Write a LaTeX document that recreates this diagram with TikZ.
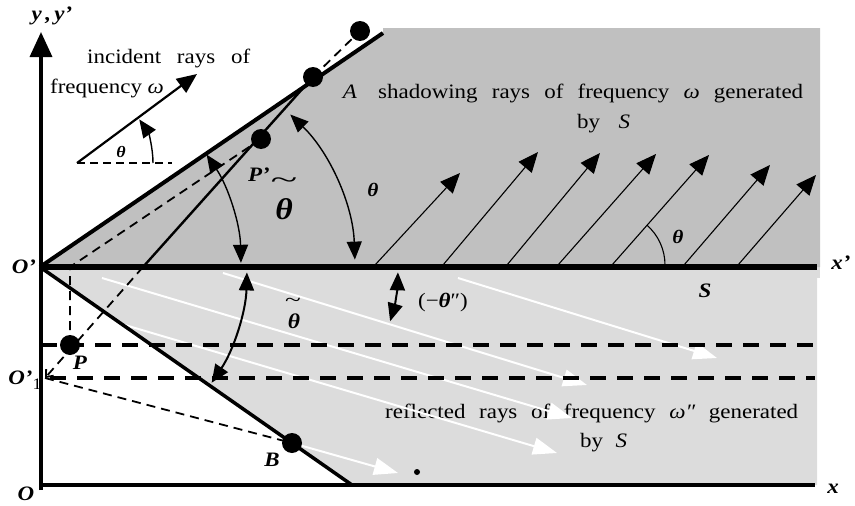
\documentclass[tikz,border=0pt]{standalone}
\usepackage{fontspec}
\setmainfont{Liberation Serif}[FakeStretch=1.12]
\usetikzlibrary{arrows.meta}
\definecolor{darkreg}{HTML}{C0C0C0}
\definecolor{lightreg}{HTML}{DCDCDC}
\begin{document}
\begin{tikzpicture}[x=1pt,y=-1pt,
  every node/.style={inner sep=0pt, font=\fontsize{20.5}{24}\selectfont},
  bi/.style={font=\fontsize{20.5}{24}\selectfont\bfseries\itshape},
  thlbl/.style={font=\fontsize{19}{20}\selectfont\bfseries\itshape},
  dot/.style={circle, fill=black, minimum size=20pt},
  bigtip/.tip={Triangle[length=20pt,width=17pt]},
  arctip/.tip={Triangle[length=18pt,width=15pt]},
  wtip/.tip={Triangle[length=24pt,width=17pt]},
  thickdash/.style={line width=4.2pt, dash pattern=on 16pt off 11pt},
  thindash/.style={line width=1.8pt, dash pattern=on 9pt off 6pt},
  ray/.style={line width=1.1pt, -{bigtip}},
  wray/.style={white, line width=2pt, -{wtip}},
  arcline/.style={line width=1.4pt}
]
\useasboundingbox (0,0) rectangle (855,506);

% key points
\coordinate (Op) at (40,267);
\coordinate (O) at (41,485);
\coordinate (ybase) at (41,490);
\coordinate (ytip) at (41,32);
\coordinate (xend) at (815,485);
\coordinate (xpend) at (817,267);
\coordinate (UB) at (383,33);
\coordinate (LB) at (352,485);
\coordinate (Q) at (143,267);
\coordinate (A) at (313,77);
\coordinate (T) at (360,31);
\coordinate (Pp) at (261,139);
\coordinate (P) at (70,345);
\coordinate (Pv) at (70,267);
\coordinate (Op1) at (45,378);
\coordinate (B) at (292,443);
\coordinate (R1) at (207,267);

% regions
\fill[lightreg] (Op) -- (xpend) -- (817,485) -- (LB) -- cycle;
\fill[lightreg] (815,267) rectangle (820,278);
\fill[darkreg] (Op) -- (UB) -- (383,28) -- (820,28) -- (820,267) -- cycle;

% texts
\node[anchor=base west] (inc1) at (87,63) {\makebox[163pt][s]{incident rays of}};
\node[anchor=base west] (inc2) at (50,93) {frequency \textit{ω}};
\node (lA) at (350,92) {\textit{A}};
\node[anchor=base west] (sh1) at (378,98) {\makebox[425pt][s]{shadowing rays of frequency \textit{ω} generated}};
\node[anchor=base west] (sh2) at (577,128) {\makebox[53pt][s]{by \textit{S}}};
\node[anchor=base west] (rf1) at (385,418) {\makebox[413pt][s]{reflected rays of frequency \textit{ω″} generated}};
\node[anchor=base west] (rf2) at (580,447) {\makebox[47pt][s]{by \textit{S}}};

% white reflected rays
\coordinate (w1a) at (223,273); \coordinate (w1b) at (587,385);
\coordinate (w2a) at (102,278); \coordinate (w2b) at (572,418);
\coordinate (w3a) at (125,325); \coordinate (w3b) at (557,453);
\coordinate (w4a) at (458,278); \coordinate (w4b) at (717,358);
\coordinate (w5b) at (398,473);
\draw[wray] (w1a) -- (w1b);
\draw[wray] (w2a) -- (w2b);
\draw[wray] (w3a) -- (w3b);
\draw[wray] (w4a) -- (w4b);
\draw[wray] (B) -- (w5b);

% dashed horizontals
\coordinate (h1a) at (41,345); \coordinate (h1b) at (815,345);
\coordinate (h2a) at (50,378); \coordinate (h2b) at (815,378);
\draw[thickdash] (h1a) -- (h1b);
\draw[thickdash] (h2a) -- (h2b);

% thin dashed lines
\draw[thindash] (P) -- (Pv) -- (Pp);
\draw[thindash] (Op1) -- (B);
\draw[thindash, -{Straight Barb[length=6pt,width=10pt]}] (Q) -- (Op1);
\draw[thindash] (A) -- (T);

% shadowing rays
\foreach \i/\ax/\bx/\by in {1/375/460/173, 2/443/538/152, 3/507/600/153, 4/558/656/154, 5/612/709/155, 6/684/770/165, 7/738/816/175}{
  \coordinate (s\i a) at (\ax,265);
  \coordinate (s\i b) at (\bx,\by);
  \draw[ray] (s\i a) -- (s\i b);
}
\draw[line width=1.1pt] ([shift={(0:53)}]s5a) arc[start angle=0, end angle=-49, radius=53];

% solid lines
\draw[line width=4pt] (Op) -- (UB);
\draw[line width=3.5pt] (Op) -- (LB);
\draw[line width=2.4pt] (Q) -- (A);
\draw[line width=3.5pt, -{Triangle[length=25pt,width=22pt]}] (ybase) -- (ytip);
\draw[line width=3.2pt] (O) -- (xend);
\draw[line width=6pt] (Op) -- (xpend);

% incident ray
\coordinate (i0) at (77,163);
\coordinate (i1) at (197,74);
\coordinate (i2) at (172,163);
\draw[line width=2.2pt, -{bigtip}] (i0) -- (i1);
\draw[line width=2pt, dash pattern=on 8pt off 5pt] (i0) -- (i2);
\draw[arcline, -{arctip}] ([shift={(0:76)}]i0) arc[start angle=0, end angle=-35, radius=76];

% angle arcs
\draw[arcline, {arctip}-{arctip}] ([shift={(-46:212)}]Q) arc[start angle=-46, end angle=-2, radius=212];
\draw[arcline, {arctip}-{arctip}] ([shift={(-34:201)}]Op) arc[start angle=-34, end angle=-1.2, radius=201];
\draw[line width=2pt, {arctip}-{arctip}] ([shift={(1.5:207)}]Op) arc[start angle=1.5, end angle=34, radius=207];
\draw[line width=2pt, {arctip}-{arctip}] ([shift={(1.6:191)}]R1) arc[start angle=1.6, end angle=16.5, radius=191];

% dots
\node[dot] (dT) at (T) {};
\node[dot] (dA) at (A) {};
\node[dot] (dPp) at (Pp) {};
\node[dot] (dP) at (P) {};
\node[dot] (dB) at (B) {};
\node[circle, fill=black, minimum size=6pt] (sd) at (417,472) {};

% labels
\node[bi] (ly) at (52,16) {y\,,\,y’};
\node[bi] (lx) at (833,489) {x};
\node[bi] (lxp) at (841,263) {x’};
\node[bi] (lO) at (26,494) {O};
\node[bi] (lOp) at (24,267) {O’};
\node (lOp1) at (25,380) {\textbf{\textit{O’}}{\fontsize{16}{16}\selectfont\raisebox{-5pt}{1}}};
\node[bi] (lP) at (80,363) {P};
\node[bi] (lPp) at (259,175) {P’};
\node[bi] (lB) at (272,460) {B};
\node[bi] (lS) at (705,291) {S};
\node[font=\fontsize{16}{16}\selectfont\bfseries\itshape] (th0) at (121,152) {θ};
\node[thlbl] (th1) at (373,190) {θ};
\node[thlbl] (th2) at (678,237) {θ};
\node[font=\fontsize{30}{30}\selectfont\bfseries\itshape] (bt) at (284,209) {θ};
\node[font=\fontsize{26}{26}\selectfont] (btt) at (284,183) {\scalebox{1.7}[1]{\textasciitilde}};
\node[font=\fontsize{21}{21}\selectfont\bfseries\itshape] (st) at (294,321) {θ};
\node[font=\fontsize{20}{20}\selectfont] (stt) at (293,302) {\scalebox{1.3}[1]{\textasciitilde}};
\node (tpp) at (443,303) {(−\textbf{\textit{θ}}″)};
\end{tikzpicture}
\end{document}
